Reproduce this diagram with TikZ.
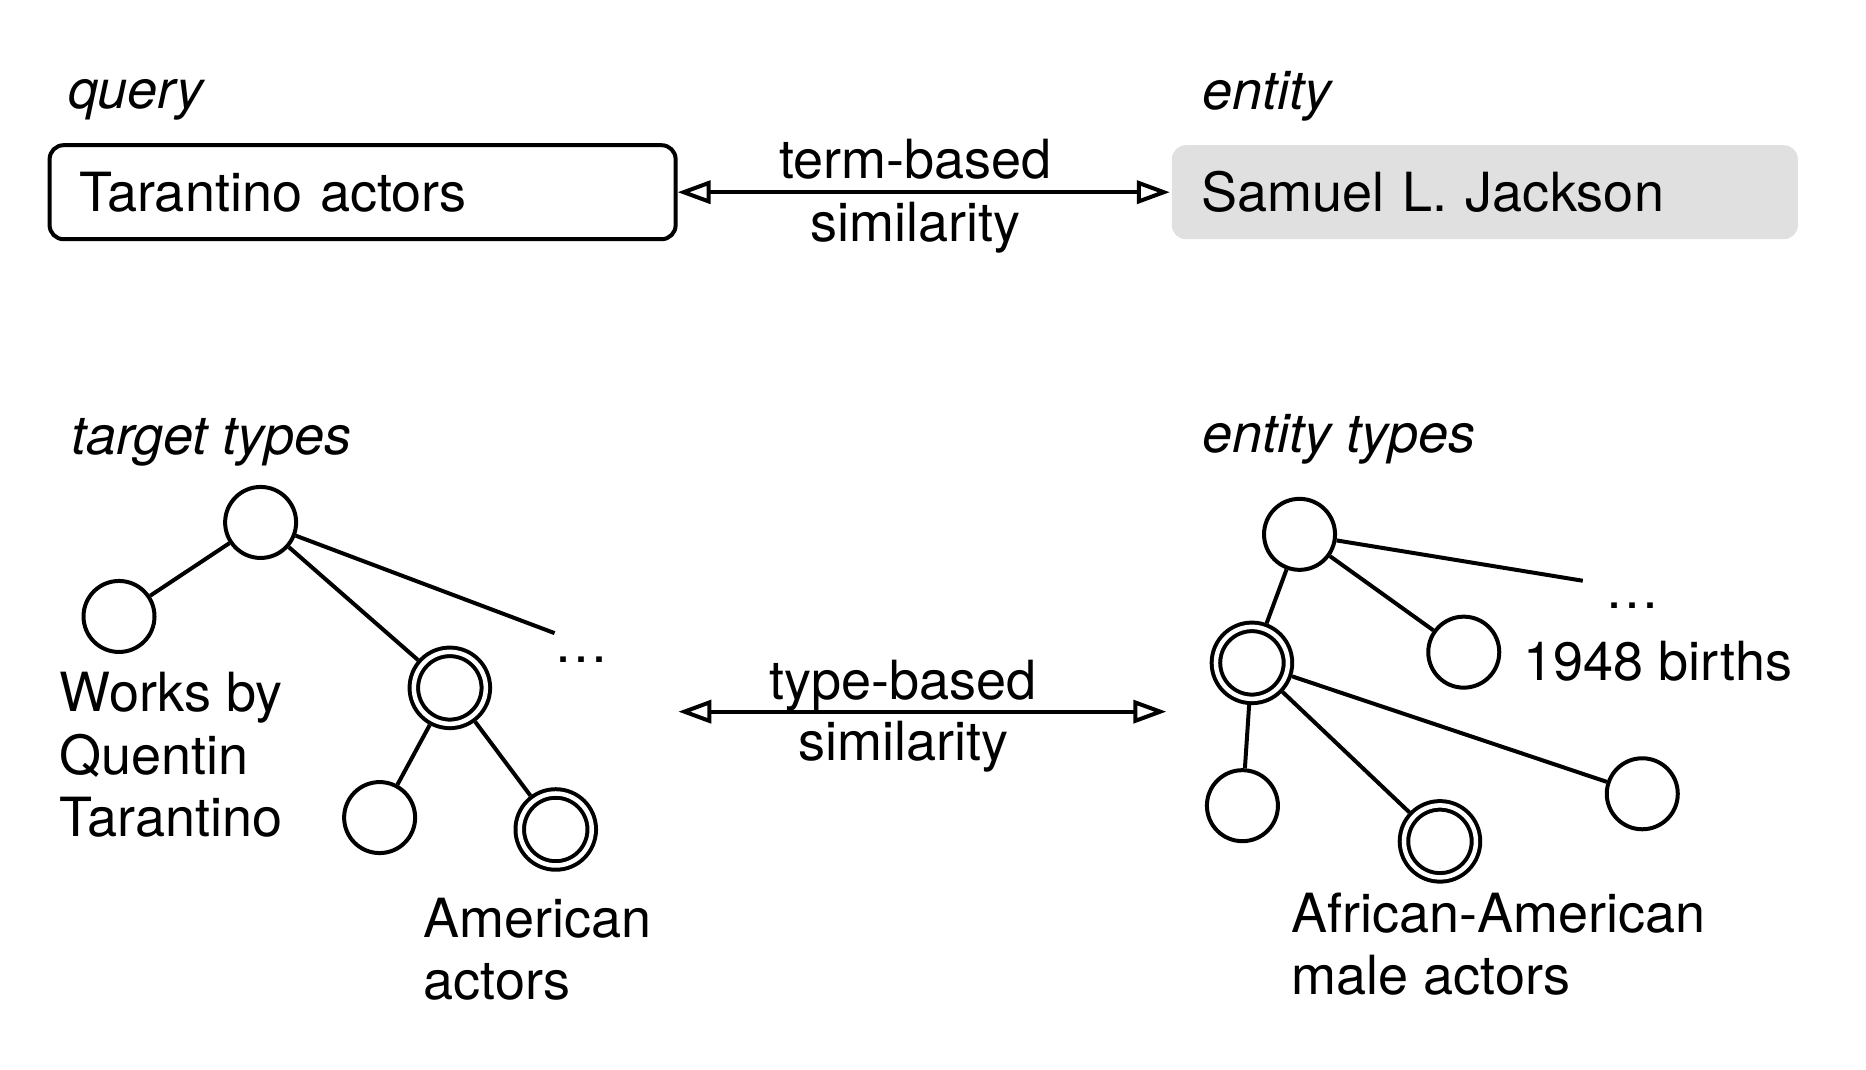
\documentclass[tikz,border=0pt]{standalone}
\usepackage{fontspec}
\setmainfont{TeX Gyre Heros}
\usetikzlibrary{arrows.meta}
\definecolor{boxgray}{RGB}{224,224,224}
\begin{document}
\begin{tikzpicture}[x=1.19pt,y=-1.19pt,
  every node/.style={font=\fontsize{54}{62.5}\selectfont},
  lbl/.style={anchor=base west, inner sep=0pt},
  ital/.style={lbl, font=\fontsize{54}{62.5}\selectfont\itshape},
  mid/.style={anchor=base, inner sep=0pt},
  txtbox/.style={rounded corners=14pt, line width=4pt, minimum height=94pt, text width=566pt, inner xsep=30pt, inner ysep=0pt, align=left, text height=39pt, text depth=0pt, anchor=west},
  tnode/.style={circle, draw, line width=4pt, minimum size=71pt, inner sep=0pt},
  dnode/.style={tnode, double, double distance=4.5pt, minimum size=72pt, outer sep=6.25pt},
  tedge/.style={line width=4pt},
  sim/.style={line width=4pt, {Triangle[open,length=33pt,width=23pt]}-{Triangle[open,length=33pt,width=23pt]}},
]
\useasboundingbox (0,0) rectangle (1568,899);

% top row
\node[ital] (ql) at (57,91) {query};
\node[ital] (el) at (1010,92) {entity};
\node[txtbox, draw] (q) at (40,161.5) {Tarantino actors};
\node[txtbox, fill=boxgray] (e) at (983,161.5) {Samuel L. Jackson};
\draw[sim] (q) -- (e);
\node[mid] (t1) at (769,150) {term-based};
\node[mid] (t2) at (769,203) {similarity};

% left tree
\node[ital] (tt) at (60,382) {target types};
\node[tnode] (L0) at (219,439) {};
\node[tnode] (L1) at (100,518) {};
\node[dnode] (L2) at (378,578) {};
\node[tnode] (L3) at (319,687) {};
\node[dnode] (L4) at (467,697) {};
\coordinate (Ld) at (466,532);
\draw[tedge] (L0) -- (L1);
\draw[tedge] (L0) -- (L2);
\draw[tedge] (L0) -- (Ld);
\draw[tedge] (L2) -- (L3);
\draw[tedge] (L2) -- (L4);
\node[lbl] (Ldots) at (466,557) {…};
\node[lbl, align=left] (wq) at (50,703) {Works by\\Quentin\\Tarantino};
\node[lbl, align=left] (aa) at (356,840) {American\\actors};

% middle arrow
\coordinate (sl) at (570,598);
\coordinate (sr) at (980,598);
\draw[sim] (sl) -- (sr);
\node[mid] (t3) at (759,588) {type-based};
\node[mid] (t4) at (759,639) {similarity};

% right tree
\node[ital] (et) at (1010,380) {entity types};
\node[tnode] (R0) at (1092,449) {};
\node[tnode] (R1) at (1230,548) {};
\node[dnode] (R2) at (1052,557) {};
\node[tnode] (R3) at (1044,677) {};
\node[dnode] (R4) at (1210,707) {};
\node[tnode] (R5) at (1380,667) {};
\coordinate (Rd) at (1330,488);
\draw[tedge] (R0) -- (Rd);
\draw[tedge] (R0) -- (R1);
\draw[tedge] (R0) -- (R2);
\draw[tedge] (R2) -- (R3);
\draw[tedge] (R2) -- (R4);
\draw[tedge] (R2) -- (R5);
\node[lbl] (Rdots) at (1349,511) {…};
\node[lbl] (b48) at (1280,572) {1948 births};
\node[lbl, align=left] (aam) at (1085,836) {African-American\\male actors};
\end{tikzpicture}
\end{document}
